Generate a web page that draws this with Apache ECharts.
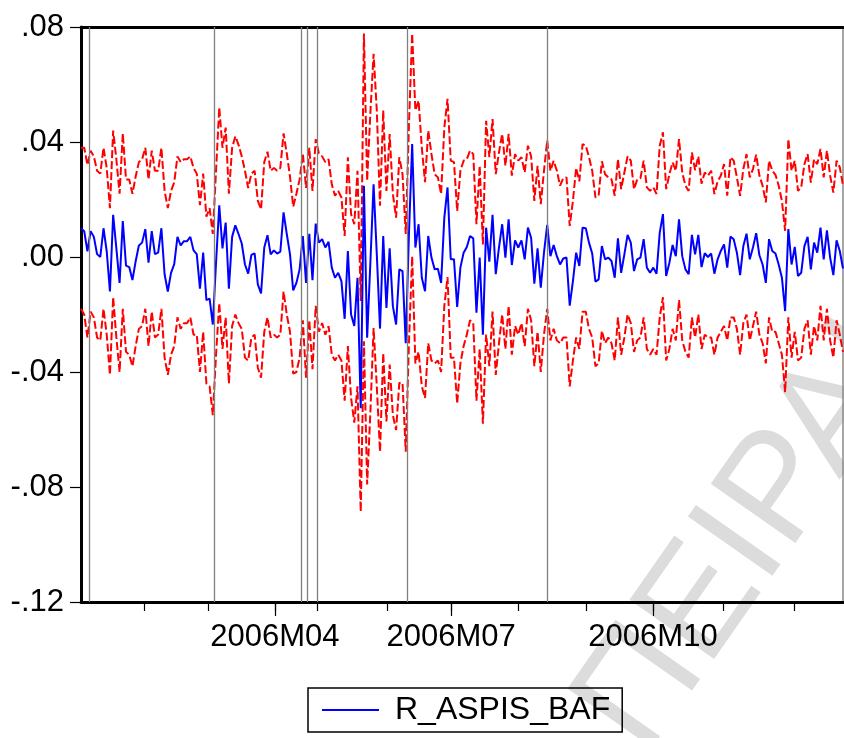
<!DOCTYPE html>
<html>
<head>
<meta charset="utf-8">
<script src="https://cdn.jsdelivr.net/npm/echarts@6/dist/echarts.min.js"></script>
<style>
html,body{margin:0;padding:0;background:#fff;}
#chart{width:844px;height:738px;}
</style>
</head>
<body>
<div id="chart"></div>
<script>
// ---- data (observation index on x, returns on y) ----
const seriesName = 'R_ASPIS_BAF';
const returns = [
 0.010, 0.009, 0.002, 0.009, 0.007, 0.001, 0.000, 0.010, 0.002, -0.012,
 0.0147, 0.003, -0.009, 0.0125, -0.003, -0.0035, -0.008, -0.0015, 0.004, 0.005,
 0.0097, -0.002, 0.009, 0.001, 0.0015, 0.010, -0.006, -0.012, -0.0055, -0.0025,
 0.007, 0.004, 0.0055, 0.0055, 0.007, 0.0023, 0.001, -0.011, 0.0015, -0.015,
 -0.0145, -0.0235, -0.002, 0.018, 0.003, 0.012, -0.011, 0.007, 0.011,
 0.008, 0.0047, -0.0026, -0.0058, 0.0007, 0.0013, -0.0095, -0.0127, 0.0033, 0.0076,
 0.0009, 0.0023, 0.0012, 0.0019, 0.0155, 0.008, 0.001, -0.0116, -0.009, -0.0043,
 0.0073, -0.009, 0.0081, -0.0081, 0.0116, 0.005, 0.0062, 0.0033, 0.0053,
 -0.0037, -0.0072, -0.0055, -0.0084, -0.0215, 0.0021, -0.020, -0.024, -0.0072, -0.0526,
 0.0248, -0.0281, -0.002, 0.0253, 0.001, -0.0249, 0.0073, -0.0177, 0.003, -0.0171,
 -0.0235, -0.0043, -0.0049, -0.030, 0.008, 0.0393,
 0.0033, 0.0114, -0.0072, -0.0119, 0.0073, -0.0002, -0.0043, -0.0041, -0.009, 0.0137, 0.0242,
 -0.0008, -0.0008, -0.0174, -0.0037, 0.0015, 0.0035, 0.0073, 0.0065, -0.0194, -0.0002,
 -0.027, 0.0102, -0.0016, 0.0147, -0.006, 0.0033, 0.0114, -0.0002, 0.0131, -0.0028,
 0.0058, 0.0033, 0.0058, -0.0008, 0.0102, 0.0067, -0.0093, 0.003, -0.0107, 0.0015,
 0.0112, 0.0003, 0.0042, 0.0003, -0.0026, -0.0005, -0.0002, -0.0169, -0.0084, 0.0015,
 -0.0031, 0.0102, 0.010, 0.005, 0.0012, -0.0086, -0.0078,
 0.0038, -0.0008, -0.0002, -0.0014, -0.0072, 0.0065, -0.0055, 0.0009, 0.0077, 0.005,
 -0.0049, -0.0008, -0.0002, 0.0062, -0.0037, -0.0055, -0.0037, -0.0058, 0.0085, 0.0149,
 -0.0066, -0.002, 0.0042, 0.0003, 0.0131, 0.0003, -0.0043, -0.006, 0.0077, 0.0009,
 0.0077, -0.0035, 0.0013, 0.0, 0.0012, -0.0058, -0.0008, 0.0021,
 0.0044, -0.0037, 0.0071, 0.0062, 0.0015, -0.0063, 0.0038, 0.0081, -0.0008, 0.0033,
 0.0083, 0.0006, -0.0026, -0.009, 0.0062, 0.0021, 0.0012, -0.0026, -0.0072, -0.0188,
 0.0097, -0.0026, 0.0035, -0.0066, -0.0055, 0.0038, 0.007, -0.0043, 0.005, 0.0015,
 0.0102, -0.0008, 0.0093, -0.0002, -0.0063, 0.0058, 0.0021, -0.004
];
const upperBand = [
 .038, .038, .032, .037, .035, .030, .029, .038, .031, .017,
 .044, .034, .022, .043, .027, .027, .022, .028, .033, .034,
 .038, .027, .037, .030, .030, .038, .023, .017, .023, .026,
 .035, .033, .034, .034, .035, .031, .029, .018, .029, .014,
 .017, .008, .030, .052, .038, .045, .022, .038, .042,
 .039, .035, .030, .024, .029, .030, .0195, .0166, .033, .0366,
 .030, .031, .030, .031, .043, .036, .028, .0175, .022, .027,
 .036, .024, .038, .023, .041, .036, .035, .033, .034,
 .0253, .0213, .023, .0207, .0073, .0347, .0149, .0114, .030, -.0153,
 .0777, .0265, .050, .0707, .051, .0178, .051, .023, .0428, .0219,
 .0137, .0347, .0288, .008, .046, .0777,
 .051, .0544, .038, .026, .044, .0358, .0288, .0277, .0219, .045, .055,
 .0335, .033, .016, .030, .0335, .034, .037, .0358, .0114, .0317,
 .0044, .0474, .0347, .048, .0288, .0364, .0428, .0317, .0428, .0283,
 .0358, .0335, .0347, .0294, .0387, .035, .0195, .0317, .0184, .030,
 .0405, .030, .0335, .030, .0248, .0274, .0277, .0108, .0195, .031,
 .0263, .0393, .0387, .0347, .030, .0207, .0213,
 .0333, .0288, .0277, .027, .0213, .034, .0236, .0294, .035, .0335,
 .0236, .027, .0274, .0335, .0242, .023, .0242, .0219, .0387, .0434,
 .0236, .0288, .0329, .030, .041, .0294, .0248, .023, .0364, .0302,
 .035, .0255, .0294, .0283, .030, .0219, .0263, .0283,
 .0323, .0213, .0347, .0335, .0277, .0213, .0306, .0358, .0277, .0306,
 .0356, .0283, .0248, .019, .0335, .030, .0286, .0248, .0195, .0091,
 .041, .030, .0335, .023, .0242, .0323, .0358, .0259, .034, .0323,
 .0376, .0277, .037, .0283, .0224, .0335, .0312, .025
];
const lowerBand = [
 -.018, -.020, -.028, -.019, -.021, -.028, -.029, -.018, -.027, -.041,
 -.014, -.028, -.040, -.018, -.033, -.034, -.038, -.031, -.025, -.024,
 -.018, -.031, -.019, -.028, -.027, -.018, -.035, -.041, -.034, -.031,
 -.021, -.025, -.023, -.023, -.021, -.027, -.027, -.040, -.026, -.044,
 -.045, -.055, -.034, -.016, -.032, -.021, -.044, -.024, -.020,
 -.023, -.025, -.035, -.036, -.028, -.027, -.0385, -.042, -.026, -.021,
 -.028, -.027, -.028, -.027, -.012, -.020, -.026, -.0406, -.040, -.035,
 -.022, -.042, -.022, -.039, -.017, -.026, -.023, -.027, -.024,
 -.034, -.036, -.034, -.036, -.050, -.031, -.049, -.0576, -.045, -.0886,
 -.0293, -.0791, -.054, -.0247, -.045, -.0677, -.0334, -.0572, -.0374, -.055,
 -.0602, -.0438, -.0438, -.0677, -.030, .0003,
 -.037, -.033, -.045, -.049, -.030, -.036, -.037, -.036, -.040, -.017, -.007,
 -.035, -.035, -.051, -.037, -.031, -.027, -.022, -.023, -.050, -.032,
 -.058, -.027, -.038, -.019, -.041, -.030, -.020, -.032, -.017, -.034,
 -.024, -.027, -.023, -.031, -.018, -.022, -.038, -.026, -.040, -.027,
 -.018, -.029, -.025, -.029, -.030, -.028, -.028, -.045, -.036, -.028,
 -.032, -.019, -.019, -.025, -.028, -.038, -.037,
 -.0257, -.030, -.028, -.030, -.036, -.021, -.034, -.028, -.020, -.023,
 -.033, -.029, -.028, -.021, -.032, -.034, -.032, -.034, -.021, -.014,
 -.036, -.032, -.025, -.029, -.015, -.029, -.033, -.035, -.021, -.028,
 -.020, -.032, -.027, -.028, -.028, -.034, -.028, -.026,
 -.024, -.029, -.021, -.021, -.025, -.034, -.023, -.020, -.029, -.024,
 -.019, -.027, -.030, -.037, -.021, -.026, -.026, -.030, -.034, -.047,
 -.021, -.035, -.026, -.036, -.035, -.025, -.022, -.034, -.024, -.029,
 -.017, -.029, -.018, -.029, -.035, -.022, -.027, -.033
];
// month boundaries (in observation units) and quarter labels
const monthTicks = [19.6, 39.5, 60.3, 73.4, 95.2, 115.1, 135.9, 157.1, 177.9, 199.7, 221.8];
const quarterTicks = [60.3, 115.1, 177.9];
const quarterLabels = ['2006M04', '2006M07', '2006M10'];
// vertical reference lines (observation units)
const breakObs = [2.5, 41.4, 68.4, 70.3, 73.4, 101.4, 144.9];
const yTicks = { min: -0.12, max: 0.08, interval: 0.04 };
const watermarkText = 'ΠΕΙΡΑΙΩΣ';

// ---- chart ----
const nObs = returns.length;
const pairs = arr => arr.map((v, i) => [i, v]);
const font = 'Liberation Sans, Arial, Helvetica, sans-serif';
const qMap = {};
quarterTicks.forEach((t, i) => { qMap[t.toFixed(1)] = quarterLabels[i]; });

const chart = echarts.init(document.getElementById('chart'), null, { renderer: 'canvas' });
chart.setOption({
  animation: false,
  backgroundColor: '#ffffff',
  grid: { left: 81, top: 27, width: 762, height: 575, containLabel: false },
  graphic: [{
    type: 'text', x: 611, y: 734, rotation: 55 * Math.PI / 180, z: 0, silent: true,
    style: { text: watermarkText, fill: '#dcdcdc', fontSize: 150, fontFamily: font, align: 'left', verticalAlign: 'middle' }
  }],
  xAxis: [
    {
      type: 'value', min: 0, max: nObs - 1, position: 'bottom',
      axisLine: { show: true, onZero: false, lineStyle: { color: '#000', width: 3 } },
      axisTick: { show: true, inside: false, length: 9, customValues: monthTicks, lineStyle: { color: '#000', width: 1.2 } },
      axisLabel: { show: false },
      splitLine: { show: false }
    },
    {
      type: 'value', min: 0, max: nObs - 1, position: 'bottom',
      axisLine: { show: false, onZero: false },
      axisTick: { show: true, inside: false, length: 14, customValues: quarterTicks, lineStyle: { color: '#000', width: 1.2 } },
      axisLabel: {
        show: true, customValues: quarterTicks, margin: 20,
        fontSize: 31, color: '#000', fontFamily: font,
        formatter: v => qMap[Number(v).toFixed(1)] || ''
      },
      splitLine: { show: false }
    },
    {
      type: 'value', min: 0, max: nObs - 1, position: 'top',
      axisLine: { show: true, onZero: false, lineStyle: { color: '#000', width: 3 } },
      axisTick: { show: false }, axisLabel: { show: false }, splitLine: { show: false }
    }
  ],
  yAxis: [
    {
      type: 'value', min: yTicks.min, max: yTicks.max, interval: yTicks.interval, position: 'left',
      axisLine: { show: true, onZero: false, lineStyle: { color: '#000', width: 3 } },
      axisTick: { show: true, inside: false, length: 11, lineStyle: { color: '#000', width: 1.2 } },
      axisLabel: {
        show: true, margin: 17, fontSize: 31, color: '#000', fontFamily: font,
        formatter: v => {
          const s = (Math.round(v * 100) / 100).toFixed(2);
          return s.replace('0.', '.');
        }
      },
      splitLine: { show: false }
    },
    {
      type: 'value', min: yTicks.min, max: yTicks.max, position: 'right',
      axisLine: { show: true, onZero: false, lineStyle: { color: '#888', width: 1.5 } },
      axisTick: { show: false }, axisLabel: { show: false }, splitLine: { show: false }
    }
  ],
  legend: {
    show: true,
    left: 308, top: 688,
    orient: 'horizontal',
    padding: [6, 12, 6, 14],
    borderColor: '#000', borderWidth: 1.5,
    backgroundColor: 'rgba(255,255,255,0)',
    icon: 'rect', itemWidth: 57, itemHeight: 2,
    textStyle: { fontSize: 32, color: '#000', fontFamily: font, padding: [0, 0, 0, 11] },
    data: [{ name: seriesName, itemStyle: { color: '#0000ff' } }]
  },
  series: [
    {
      name: 'refLines', type: 'line', data: [], z: 1, silent: true,
      markLine: {
        silent: true, symbol: ['none', 'none'], label: { show: false },
        lineStyle: { color: '#808080', width: 1.3, type: 'solid' },
        data: breakObs.map(x => ({ xAxis: x }))
      }
    },
    {
      name: 'upper', type: 'line', data: pairs(upperBand), z: 2,
      showSymbol: false, symbol: 'none',
      lineStyle: { color: '#ff0000', width: 2, type: [8, 3] }
    },
    {
      name: 'lower', type: 'line', data: pairs(lowerBand), z: 2,
      showSymbol: false, symbol: 'none',
      lineStyle: { color: '#ff0000', width: 2, type: [8, 3] }
    },
    {
      name: seriesName, type: 'line', data: pairs(returns), z: 3,
      showSymbol: false, symbol: 'none',
      itemStyle: { color: '#0000ff' },
      lineStyle: { color: '#0000ff', width: 2 }
    }
  ]
});
</script>
</body>
</html>
